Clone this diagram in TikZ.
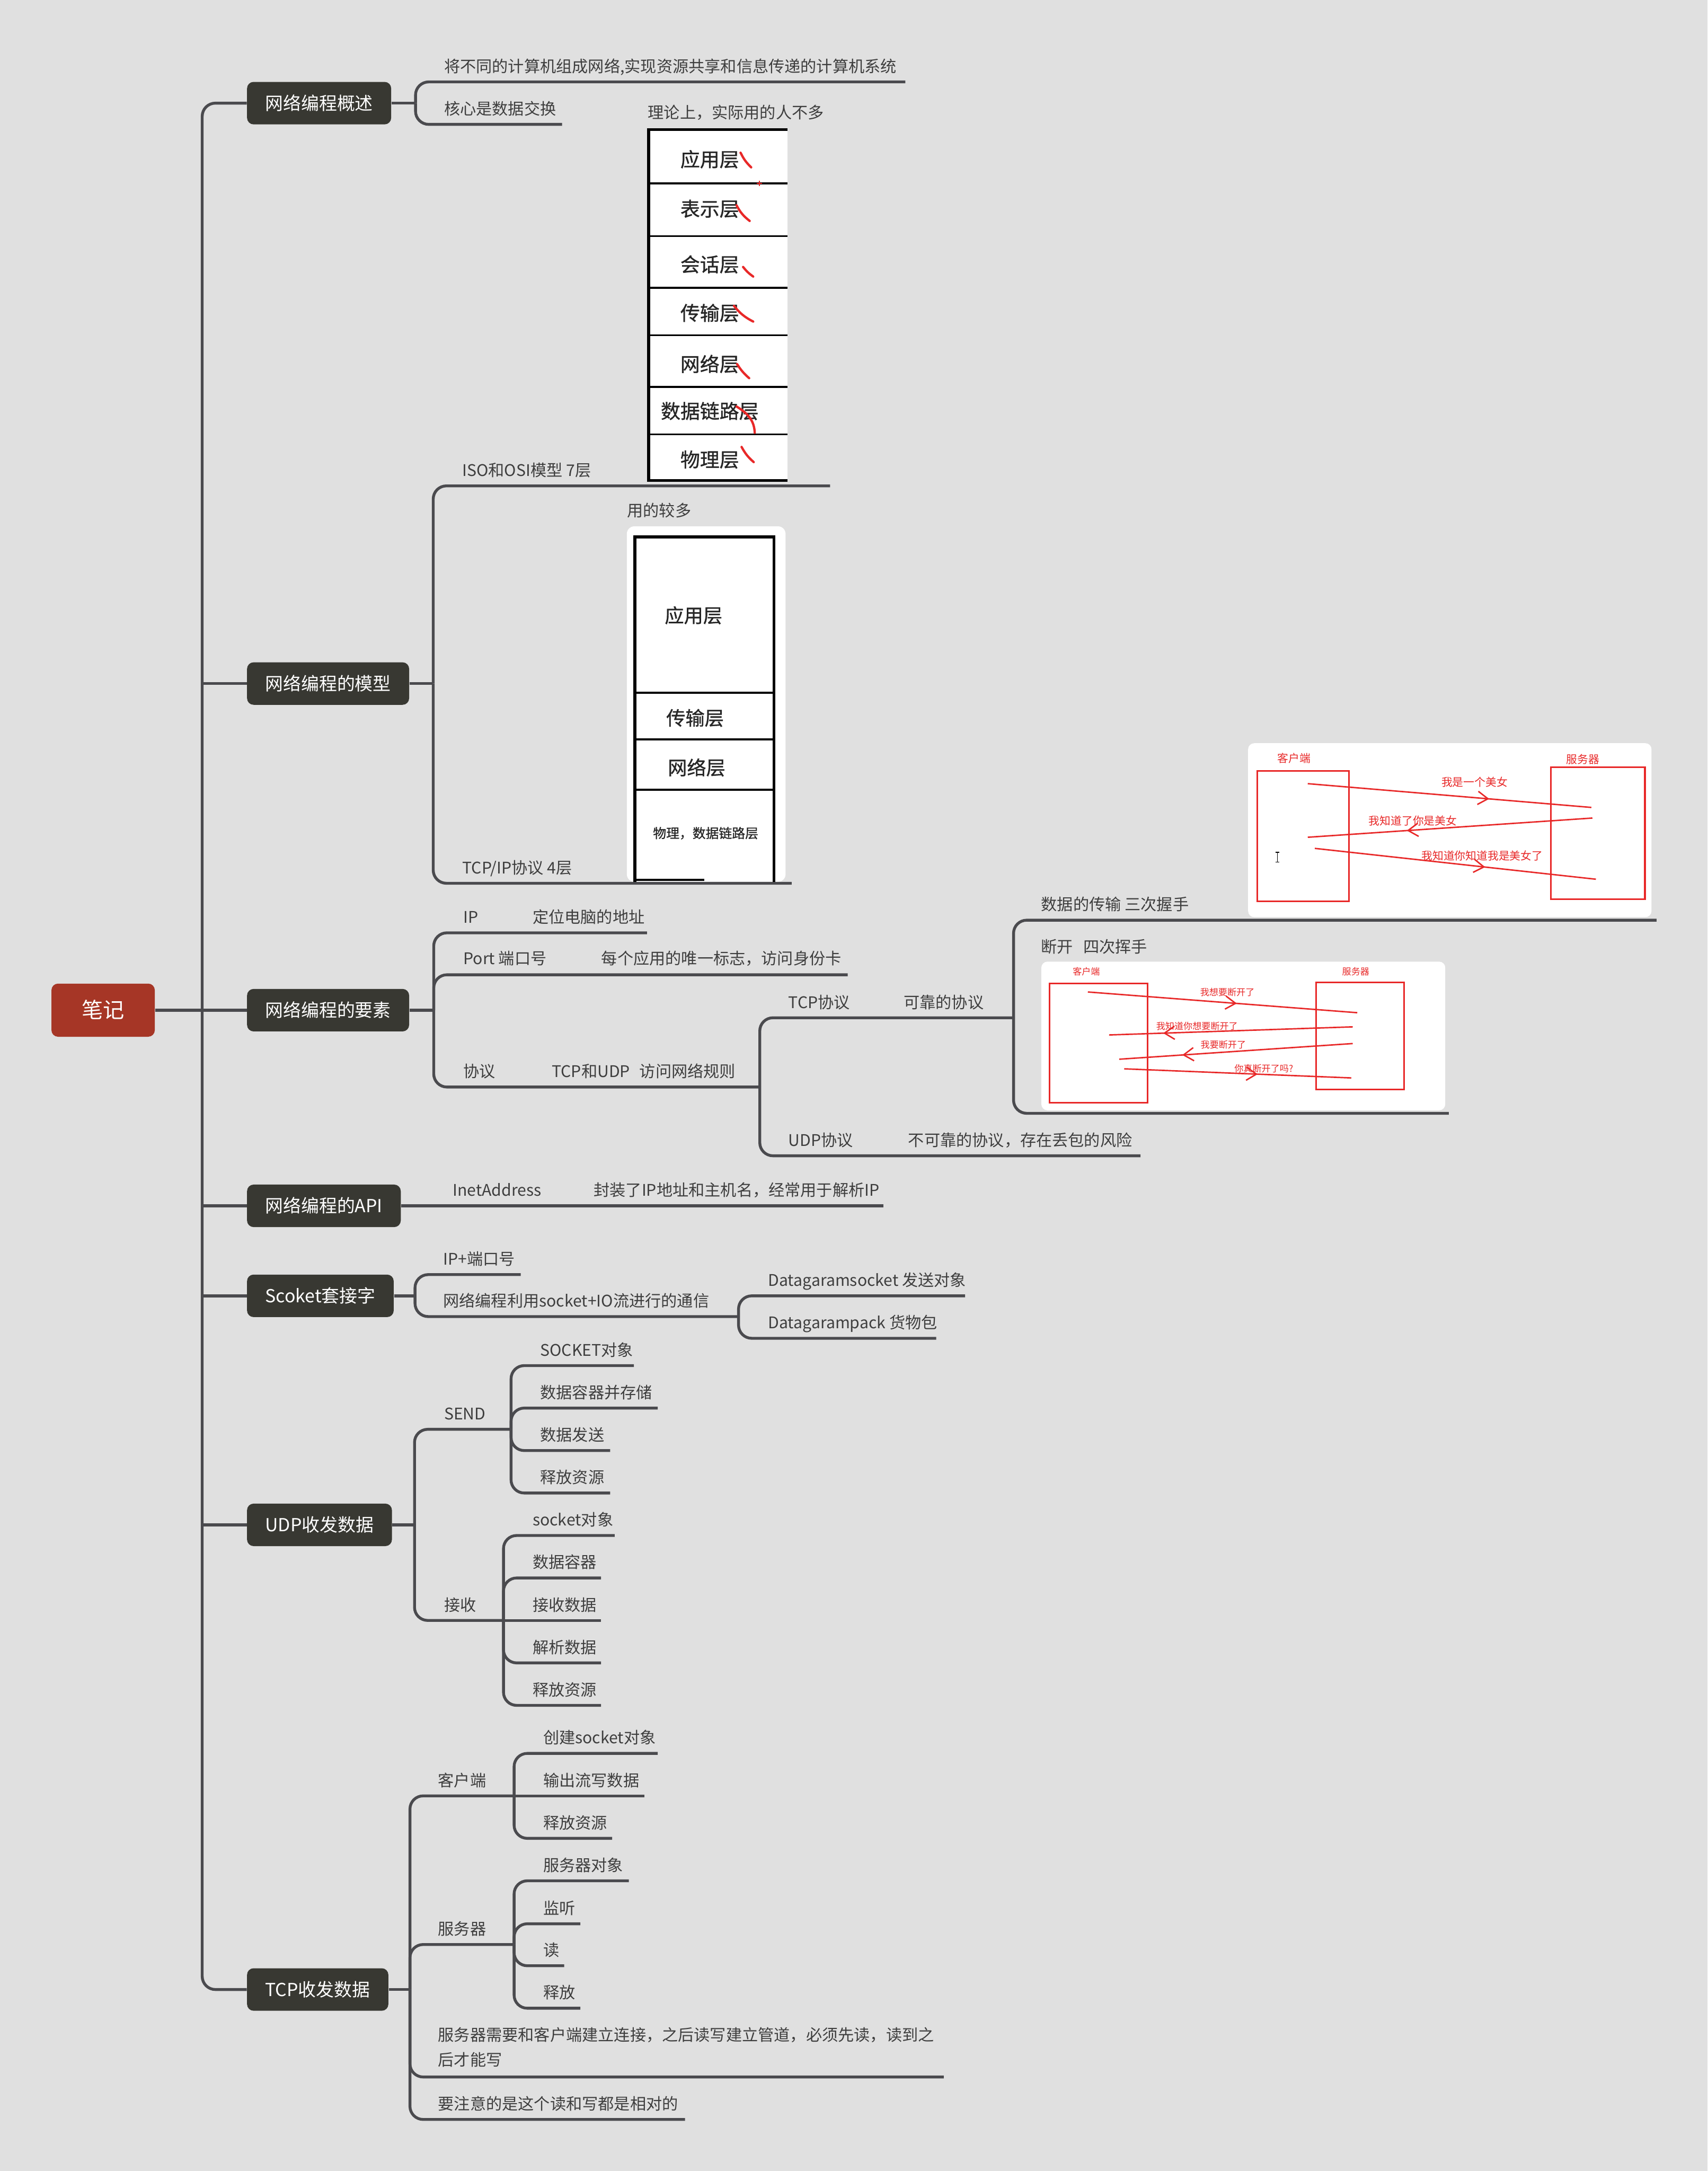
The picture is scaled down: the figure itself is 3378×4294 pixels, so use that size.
\documentclass[tikz,border=0pt]{standalone}
\usepackage{fontspec}
\setmainfont{Noto Sans CJK SC}
\newfontfamily\layerfam[FakeBold=1]{Noto Sans CJK SC}
\usetikzlibrary{arrows.meta,decorations.markings}
\definecolor{bgc}{RGB}{224,224,224}
\definecolor{linec}{RGB}{74,74,78}
\definecolor{topicc}{RGB}{56,56,50}
\definecolor{rootc}{RGB}{166,54,38}
\definecolor{leafc}{RGB}{62,62,62}
\definecolor{redc}{RGB}{232,40,40}
\newcommand{\leaffont}{\fontsize{9pt}{11pt}\selectfont}
\newcommand{\topicfont}{\fontsize{10.1pt}{12pt}\selectfont}
\newcommand{\rootfont}{\fontsize{12pt}{14pt}\selectfont}
\newcommand{\layerfont}{\layerfam\fontsize{11pt}{13pt}\selectfont}
\newcommand{\handfont}{\fontsize{6.2pt}{7pt}\selectfont}
\newcommand{\wavefont}{\fontsize{5.1pt}{6pt}\selectfont}
\begin{document}
\begin{tikzpicture}[x=0.01cm,y=-0.01cm,
  conn/.style={draw=linec,line width=1.6pt},
  elbow/.style={conn,rounded corners=0.26cm},
  topic/.style={fill=topicc,text=white,rounded corners=0.13cm,anchor=west,
    minimum height=0.84cm,inner xsep=0.36cm,inner ysep=0pt,font=\topicfont,
    text height=8.9pt,text depth=1.2pt},
  leaf/.style={anchor=west,inner sep=0pt,text=leafc,font=\leaffont,
    text height=7.9pt,text depth=1.1pt},
  layer/.style={inner sep=0pt,text=black!85,font=\layerfont},
  redbox/.style={draw=redc,line width=0.9pt},
  redtxt/.style={inner sep=0pt,text=redc},
  tick/.style={draw=redc,line width=1.3pt,line cap=round},
  msg/.style={draw=redc,line width=0.8pt,postaction={decorate},
    decoration={markings,mark=at position #1 with {\arrow[redc]{Straight Barb[length=0.2cm,width=0.26cm]}}}}
]
% fond
\fill[bgc] (0,0) rectangle (3378,4294);
\useasboundingbox (0,0) rectangle (3378,4294);

% racine et branches
\node[topic,fill=rootc,font=\rootfont,anchor=center,minimum height=1.05cm,
  inner xsep=0.6cm,text height=10.5pt,text depth=1.5pt] (root) at (204,1998) {笔记};
\node[topic] (t1) at (488,204) {网络编程概述};
\node[topic] (t2) at (488,1352) {网络编程的模型};
\node[topic] (t3) at (488,1998) {网络编程的要素};
\node[topic] (t4) at (488,2385) {网络编程的API};
\node[topic] (t5) at (488,2563) {Scoket套接字};
\node[topic] (t6) at (488,3016) {UDP收发数据};
\node[topic] (t7) at (488,3935) {TCP收发数据};
\coordinate (trunk) at (400,0);
\draw[elbow] (t1.west) -- (trunk |- t1.west) -- (trunk |- t7.west) -- (t7.west);
\foreach \t in {t2,t4,t5,t6} \draw[conn] (trunk |- \t.west) -- (\t.west);
\draw[conn] (root) -- (t3);

% 网络编程概述
\coordinate (j1) at (822,204);
\draw[conn] (t1) -- (j1);
\node[leaf] (a1) at (878,131) {将不同的计算机组成网络,实现资源共享和信息传递的计算机系统};
\node[leaf] (a2) at (878,215) {核心是数据交换};
\coordinate (a1u) at (1791,162);
\coordinate (a2u) at (1112,246);
\draw[elbow] (j1) |- (a1u);
\draw[elbow] (j1) |- (a2u);

% 网络编程的模型 : OSI
\node[leaf] (osinote) at (1281,222) {理论上，实际用的人不多};
\fill[white] (1282,255) rectangle (1558,951);
\draw[black,line width=1.6pt] (1558,256) -- (1283,256) -- (1283,950) -- (1558,950);
\foreach \y in {363,467,569,663,765,859} \draw[black,line width=1.1pt] (1283,\y) -- (1558,\y);
\foreach \y/\txt in {315/应用层,413/表示层,523/会话层,619/传输层,720/网络层,813/数据链路层,909/物理层}
  \node[layer] (osi\y) at (1404,\y) {\txt};
\draw[tick] (1465,302) to[bend right=10] (1486,331);
\draw[redc,line width=0.6pt] (1497,363) -- (1508,363) (1502,358) -- (1502,368);
\draw[tick] (1457,406) to[bend right=12] (1483,437);
\draw[tick] (1470,528) to[bend right=8] (1490,547);
\draw[tick] (1452,605) to[bend right=12] (1490,636);
\draw[tick] (1458,720) to[bend right=8] (1482,748);
\draw[tick] (1457,804) .. controls (1480,818) and (1492,832) .. (1493,856);
\draw[tick] (1467,884) to[bend right=10] (1491,914);

% 网络编程的模型 : TCP/IP
\node[leaf] (tcpnote) at (1240,1010) {用的较多};
\fill[white,rounded corners=0.15cm] (1240,1041) rectangle (1554,1744);
\draw[black,line width=1.6pt] (1256,1744) -- (1256,1062) -- (1531,1062) -- (1531,1744);
\foreach \y in {1370,1462,1562} \draw[black,line width=1.2pt] (1256,\y) -- (1531,\y);
\draw[black,line width=1.2pt] (1256,1740) -- (1393,1740);
\node[layer,font=\layerfam\fontsize{10.8pt}{13pt}\selectfont] (ip1) at (1372,1217) {应用层};
\node[layer,font=\layerfam\fontsize{10.8pt}{13pt}\selectfont] (ip2) at (1375,1420) {传输层};
\node[layer,font=\layerfam\fontsize{10.8pt}{13pt}\selectfont] (ip3) at (1378,1518) {网络层};
\node[layer,font=\layerfam\fontsize{7.4pt}{9pt}\selectfont] (ip4) at (1396,1648) {物理，数据链路层};

\coordinate (j2) at (857,1352);
\draw[conn] (t2) -- (j2);
\node[leaf] (b1) at (914,930) {ISO和OSI模型 7层};
\node[leaf] (b2) at (914,1716) {TCP/IP协议 4层};
\coordinate (b1u) at (1642,961);
\coordinate (b2u) at (1566,1747);
\draw[elbow] (j2) |- (b1u);
\draw[elbow] (j2) |- (b2u);

% 网络编程的要素
\coordinate (j3) at (858,1998);
\draw[conn] (t3) -- (j3);
\node[leaf] (c1) at (916,1814) {IP};
\node[leaf] (c1b) at (1053,1814) {定位电脑的地址};
\node[leaf] (c2) at (916,1896) {Port 端口号};
\node[leaf] (c2b) at (1189,1896) {每个应用的唯一标志，访问身份卡};
\node[leaf] (c3) at (916,2119) {协议};
\node[leaf] (c3b) at (1091,2119) {TCP和UDP\hspace{0.19cm}访问网络规则};
\coordinate (c1u) at (1280,1845);
\coordinate (c2u) at (1677,1928);
\coordinate (k3) at (1503,2150);
\draw[elbow] (j3) |- (c1u);
\draw[elbow] (j3) |- (c2u);
\draw[elbow] (j3) |- (k3);

\node[leaf] (d1) at (1559,1982) {TCP协议};
\node[leaf] (d1b) at (1787,1982) {可靠的协议};
\node[leaf] (d2) at (1559,2255) {UDP协议};
\node[leaf] (d2b) at (1796,2255) {不可靠的协议，存在丢包的风险};
\coordinate (k4) at (2005,2013);
\coordinate (d2u) at (2256,2286);
\draw[elbow] (k3) |- (k4);
\draw[elbow] (k3) |- (d2u);

% 三次握手
\fill[white,rounded corners=0.12cm] (2469,1470) rectangle (3267,1814);
\draw[redbox] (2487,1525) rectangle (2669,1783);
\draw[redbox] (3068,1517) rectangle (3254,1778);
\node[redtxt,font=\handfont] (hc) at (2560,1500) {客户端};
\node[redtxt,font=\handfont] (hs) at (3131,1502) {服务器};
\draw[msg=0.64] (2587,1550) -- (3148,1597);
\draw[msg=0.652] (3150,1618) -- (2587,1656);
\draw[msg=0.606] (2601,1678) -- (3157,1739);
\node[redtxt,font=\handfont] (h1) at (2917,1547) {我是一个美女};
\node[redtxt,font=\handfont] (h2) at (2795,1623) {我知道了你是美女};
\node[redtxt,font=\handfont] (h3) at (2932,1693) {我知道你知道我是美女了};
\draw[black,line width=0.5pt] (2527,1686) -- (2527,1705) (2523,1686) -- (2531,1686) (2523,1705) -- (2531,1705);

% 四次挥手
\fill[white,rounded corners=0.12cm] (2060,1902) rectangle (2859,2196);
\draw[redbox] (2076,1945) rectangle (2270,2181);
\draw[redbox] (2604,1943) rectangle (2778,2155);
\node[redtxt,font=\wavefont] (wc) at (2149,1922) {客户端};
\node[redtxt,font=\wavefont] (ws) at (2682,1922) {服务器};
\draw[msg=0.553] (2152,1962) -- (2685,2003);
\draw[msg=0.778] (2676,2031) -- (2194,2047);
\draw[msg=0.73] (2676,2064) -- (2214,2095);
\draw[msg=0.588] (2224,2114) -- (2673,2132);
\node[redtxt,font=\wavefont] (w1) at (2428,1963) {我想要断开了};
\node[redtxt,font=\wavefont] (w2) at (2368,2030) {我知道你想要断开了};
\node[redtxt,font=\wavefont] (w3) at (2420,2066) {我要断开了};
\node[redtxt,font=\wavefont] (w4) at (2500,2113) {你真断开了吗?};

\node[leaf] (e1) at (2059,1789) {数据的传输 三次握手};
\node[leaf] (e2) at (2059,1872) {断开\hspace{0.2cm}四次挥手};
\coordinate (e1u) at (3277,1820);
\coordinate (e2u) at (2866,2202);
\draw[elbow] (k4) |- (e1u);
\draw[elbow] (k4) |- (e2u);

% 网络编程的API
\node[leaf] (api1) at (895,2354) {InetAddress};
\node[leaf] (api2) at (1174,2354) {封装了IP地址和主机名，经常用于解析IP};
\coordinate (apiu) at (1748,2385);
\draw[conn] (t4) -- (apiu);

% Scoket套接字
\coordinate (j5) at (821,2563);
\draw[conn] (t5) -- (j5);
\node[leaf] (f1) at (876,2490) {IP+端口号};
\node[leaf] (f2) at (876,2573) {网络编程利用socket+IO流进行的通信};
\coordinate (f1u) at (1030,2521);
\coordinate (k5) at (1461,2604);
\draw[elbow] (j5) |- (f1u);
\draw[elbow] (j5) |- (k5);
\node[leaf] (g1) at (1519,2532) {Datagaramsocket 发送对象};
\node[leaf] (g2) at (1519,2616) {Datagarampack 货物包};
\coordinate (g1u) at (1909,2563);
\coordinate (g2u) at (1852,2647);
\draw[elbow] (k5) |- (g1u);
\draw[elbow] (k5) |- (g2u);

% UDP收发数据
\coordinate (j6) at (820,3016);
\draw[conn] (t6) -- (j6);
\node[leaf] (send) at (878,2796) {SEND};
\node[leaf] (recv) at (878,3174) {接收};
\coordinate (k6a) at (1011,2827);
\coordinate (k6b) at (996,3205);
\draw[elbow] (j6) |- (k6a);
\draw[elbow] (j6) |- (k6b);
\foreach \i/\uy/\ex/\txt in {1/2701/1254/SOCKET对象,2/2785/1301/数据容器并存储,3/2869/1207/数据发送,4/2953/1207/释放资源}{
  \node[leaf] (s\i) at (1068,\uy-31) {\txt};
  \coordinate (s\i-u) at (\ex,\uy);
  \draw[elbow] (k6a) |- (s\i-u);
}
\foreach \i/\uy/\ex/\txt in {1/3037/1216/socket对象,2/3121/1189/数据容器,3/3205/1189/接收数据,4/3289/1189/解析数据,5/3373/1189/释放资源}{
  \node[leaf] (r\i) at (1053,\uy-31) {\txt};
  \coordinate (r\i-u) at (\ex,\uy);
  \ifnum\i=3 \draw[conn] (k6b) -- (r\i-u); \else \draw[elbow] (k6b) |- (r\i-u); \fi
}

% TCP收发数据
\coordinate (j7) at (811,3935);
\draw[conn] (t7) -- (j7);
\node[leaf] (cli) at (866,3521) {客户端};
\node[leaf] (srv) at (866,3815) {服务器};
\node[leaf,align=left,font=\fontsize{9pt}{0.5cm}\selectfont,text height=,text depth=] (note1) at (866,4049)
  {服务器需要和客户端建立连接，之后读写建立管道，必须先读，读到之\\后才能写};
\node[leaf] (note2) at (866,4161) {要注意的是这个读和写都是相对的};
\coordinate (k7a) at (1017,3552);
\coordinate (k7b) at (1017,3846);
\coordinate (note1u) at (1867,4108);
\coordinate (note2u) at (1355,4192);
\draw[elbow] (j7) |- (k7a);
\draw[elbow] (j7) |- (k7b);
\draw[elbow] (j7) |- (note1u);
\draw[elbow] (j7) |- (note2u);
\foreach \i/\uy/\ex/\txt in {1/3468/1301/创建socket对象,2/3552/1275/输出流写数据,3/3636/1211/释放资源}{
  \node[leaf] (cl\i) at (1074,\uy-31) {\txt};
  \coordinate (cl\i-u) at (\ex,\uy);
  \ifnum\i=2 \draw[conn] (k7a) -- (cl\i-u); \else \draw[elbow] (k7a) |- (cl\i-u); \fi
}
\foreach \i/\uy/\ex/\txt in {1/3720/1244/服务器对象,2/3805/1148/监听,3/3888/1116/读,4/3972/1148/释放}{
  \node[leaf] (sv\i) at (1074,\uy-31) {\txt};
  \coordinate (sv\i-u) at (\ex,\uy);
  \draw[elbow] (k7b) |- (sv\i-u);
}
\end{tikzpicture}
\end{document}
